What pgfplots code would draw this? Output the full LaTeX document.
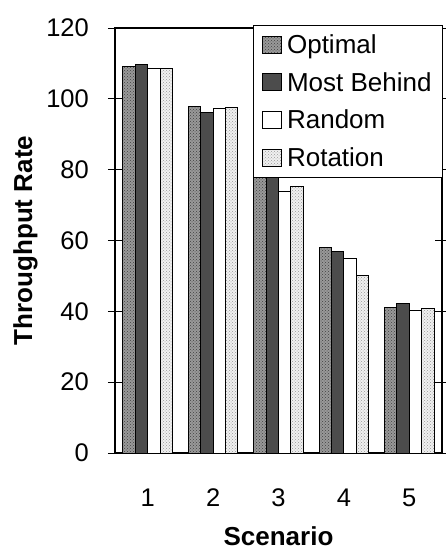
\documentclass[border=0pt]{standalone}
\usepackage{fontspec}
\setmainfont{Liberation Sans}
\usepackage{pgfplots}
\pgfplotsset{compat=1.18}
\usetikzlibrary{patterns}

\begin{document}
\begin{tikzpicture}
\begin{axis}[
	scale only axis,
	width=327pt, height=425pt,
	xmin=0.5, xmax=5.5,
	ymin=0, ymax=120,
	ybar=0pt, bar width=0.19,
	xtick={1,...,5}, xtick style={draw=none},
	minor xtick={0.5,1.5,...,5.5},
	ytick={0,20,...,120},
	tick align=center,
	major tick length=14pt, minor tick length=16pt,
	tick style={black, line width=0.8pt},
	axis line style={line width=1.2pt},
	/pgf/number format/assume math mode=true,
	tick label style={font=\fontsize{25.5}{30}\selectfont},
	xticklabel style={anchor=base, inner sep=0pt, yshift=-46pt},
	yticklabel style={anchor=east, inner sep=0pt, xshift=-19pt},
	xlabel={\bfseries Scenario},
	ylabel={\bfseries Throughput Rate},
	label style={font=\fontsize{26}{30}\selectfont},
	xlabel style={at={(axis description cs:0.5,-0.2165)}, anchor=base},
	ylabel style={at={(axis description cs:-0.2538,0.5)}, anchor=base},
	legend style={
		at={(rel axis cs:1,1)}, anchor=north east,
		xshift=1pt, yshift=3pt,
		draw=black, line width=0.8pt, fill=white,
		font=\fontsize{26}{30}\selectfont,
		cells={anchor=west},
		inner xsep=9pt, inner ysep=7pt,
		row sep=13.5pt,
		/tikz/every odd column/.append style={column sep=3pt},
	},
	legend image code/.code={
		\draw[#1, line width=1pt] (0pt,-8.5pt) rectangle (19pt,8.5pt);
	},
]
\coordinate (o) at (rel axis cs:0,0);

% Optimal
\addplot[draw=black, line width=1pt, fill=black!40,
	postaction={pattern=crosshatch dots, pattern color=black!75}]
	coordinates {(1,109.1) (2,97.8) (3,80.5) (4,58.1) (5,41.2)};
% Most Behind
\addplot[draw=black, line width=1pt, fill=black!70]
	coordinates {(1,109.6) (2,96.1) (3,80) (4,56.9) (5,42.3)};
% Random
\addplot[draw=black, line width=1pt, fill=white]
	coordinates {(1,108.5) (2,97.4) (3,73.8) (4,55.0) (5,40.1)};
% Rotation
\addplot[draw=black, line width=1pt, fill=black!6,
	postaction={pattern=crosshatch dots, pattern color=black!40}]
	coordinates {(1,108.7) (2,97.6) (3,75.2) (4,50.0) (5,40.9)};

\legend{Optimal, Most Behind, Random, Rotation}
\end{axis}
\pgfresetboundingbox
\path (o) ++(-115pt,-96pt) rectangle ++(446pt,549pt);
\end{tikzpicture}
\end{document}
